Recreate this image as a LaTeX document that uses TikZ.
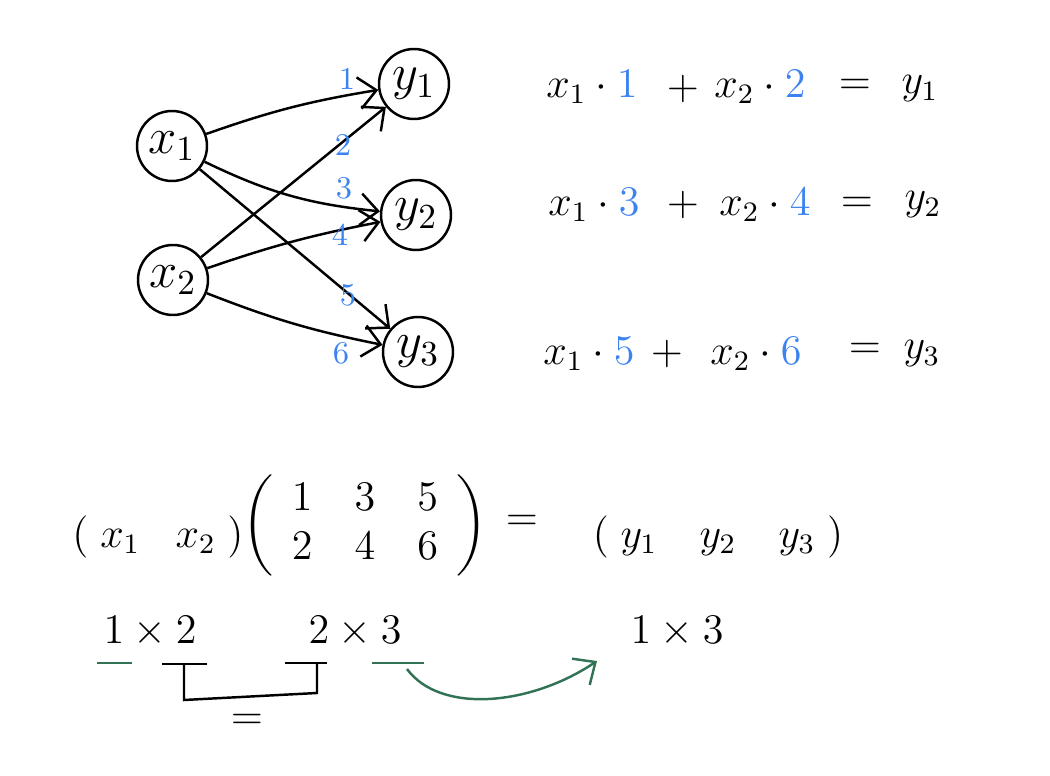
\documentclass[tikz,border=0pt]{standalone}
\usepackage{amsmath}
\usepackage{tikz}
\usetikzlibrary{arrows.meta,positioning}
\definecolor{wblue}{RGB}{60,130,240}
\definecolor{sgreen}{RGB}{50,115,85}

\begin{document}
\begin{tikzpicture}[>={Straight Barb[length=5pt,width=9pt]}, line width=0.7pt,
  neuron/.style={draw, circle, minimum size=0.7cm, inner sep=0pt, font=\Large},
  wt/.style={text=wblue, font=\small},
  eq/.style={font=\large},
  mat/.style={font=\large}]
  \useasboundingbox (0,0) rectangle (10.5,7.76);
  % inputs and outputs
  \node[neuron] (x1) at (1.72,6.30) {$x_1$};
  \node[neuron] (x2) at (1.73,4.96) {$x_2$};
  \node[neuron] (y1) at (4.14,6.92) {$y_1$};
  \node[neuron] (y2) at (4.16,5.61) {$y_2$};
  \node[neuron] (y3) at (4.18,4.24) {$y_3$};
  % connections
  \draw[->] (x1) to[bend left=5] (y1);
  \draw[->] (x2) -- (y1);
  \draw[->] (x1) to[bend right=10] (y2);
  \draw[->] (x2) to[bend left=4] (y2);
  \draw[->] (x1) -- (y3);
  \draw[->] (x2) to[bend right=5] (y3);
  % weights
  \node[wt] (w1) at (3.47,6.97) {1};
  \node[wt] (w2) at (3.43,6.31) {2};
  \node[wt] (w3) at (3.44,5.88) {3};
  \node[wt] (w4) at (3.40,5.41) {4};
  \node[wt] (w5) at (3.48,4.81) {5};
  \node[wt] (w6) at (3.41,4.23) {6};
  % first output
  \node[eq] (a1) at (5.92,6.89) {$x_1\cdot\textcolor{wblue}{1}$};
  \node[eq] (p1) at (6.83,6.87) {$+$};
  \node[eq] (b1) at (7.60,6.89) {$x_2\cdot\textcolor{wblue}{2}$};
  \node[eq] (q1) at (8.55,6.89) {$=$};
  \node[eq] (r1) at (9.20,6.87) {$y_1$};
  % second output
  \node[eq] (a2) at (5.94,5.71) {$x_1\cdot\textcolor{wblue}{3}$};
  \node[eq] (p2) at (6.83,5.71) {$+$};
  \node[eq] (b2) at (7.65,5.71) {$x_2\cdot\textcolor{wblue}{4}$};
  \node[eq] (q2) at (8.57,5.71) {$=$};
  \node[eq] (r2) at (9.23,5.71) {$y_2$};
  % third output
  \node[eq] (a3) at (5.89,4.22) {$x_1\cdot\textcolor{wblue}{5}$};
  \node[eq] (p3) at (6.67,4.22) {$+$};
  \node[eq] (b3) at (7.56,4.22) {$x_2\cdot\textcolor{wblue}{6}$};
  \node[eq] (q3) at (8.65,4.25) {$=$};
  \node[eq] (r3) at (9.22,4.22) {$y_3$};
  % as a matrix product
  \node[mat] (xv) at (1.58,2.39) {$(\;x_1\;\;\;x_2\;)$};
  \node[mat] (wm) at (3.65,2.51) {$\left(\arraycolsep=6pt\begin{array}{@{\;\,}ccc@{\;\,}}1&3&5\\2&4&6\end{array}\right)$};
  \node[mat] (eqm) at (5.22,2.53) {$=$};
  \node[mat] (yv) at (7.18,2.39) {$(\;y_1\quad y_2\quad y_3\;)$};
  % shapes
  \node[eq] (s1) at (1.50,1.44) {$1\times 2$};
  \node[eq] (s2) at (3.55,1.44) {$2\times 3$};
  \node[eq] (s3) at (6.77,1.44) {$1\times 3$};
  % inner sizes agree
  \draw[sgreen] (0.97,1.13) -- (1.32,1.13);
  \draw (1.62,1.12) -- (2.07,1.12);
  \draw (1.84,1.12) -- (1.84,0.76) -- (3.17,0.83) -- (3.17,1.13);
  \draw (2.85,1.13) -- (3.27,1.13);
  \node[eq] (same) at (2.47,0.54) {$=$};
  % outer sizes give the result
  \draw[sgreen] (3.72,1.13) -- (4.24,1.13);
  \coordinate (o1) at (4.07,1.07);
  \coordinate (o2) at (5.97,1.15);
  \draw[sgreen,->] (o1) .. controls (4.4,0.62) and (5.3,0.70) .. (o2);
\end{tikzpicture}
\end{document}
